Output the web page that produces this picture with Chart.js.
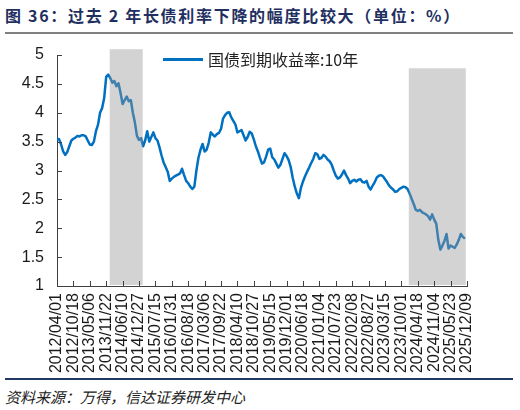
<!DOCTYPE html>
<html>
<head>
<meta charset="utf-8">
<script src="https://cdn.jsdelivr.net/npm/chart.js@4"></script>
<style>
  html, body { margin: 0; padding: 0; background: #fff; }
  body { width: 520px; height: 410px; position: relative; overflow: hidden; font-family: "Noto Sans CJK SC", sans-serif; }
  .title { position: absolute; left: 5px; top: 3px; font-size: 16px; font-weight: bold; color: #1f3060; letter-spacing: 1.7px; white-space: nowrap; }
  .rule-top { position: absolute; left: 5px; top: 32px; width: 508px; height: 2px; background: #808080; }
  .chart-box { position: absolute; left: 0; top: 40px; width: 520px; height: 338px; }
  .legend { position: absolute; left: 163px; top: 48px; height: 22px; display: flex; align-items: center; font-size: 16px; color: #222; white-space: nowrap; }
  .legend .swatch { width: 40px; height: 3px; background: #0070c0; margin-right: 5px; }
  .rule-bottom { position: absolute; left: 5px; top: 378px; width: 508px; height: 2px; background: #1f3864; }
  .source { position: absolute; left: 5px; top: 386px; font-size: 15px; font-style: italic; color: #222; white-space: nowrap; }
</style>
</head>
<body>
<div class="title">图 36：过去 2 年长债利率下降的幅度比较大（单位：%）</div>
<div class="rule-top"></div>
<div class="chart-box"><canvas id="yieldChart"></canvas></div>
<div class="legend"><span class="swatch"></span><span id="legendLabel"></span></div>
<div class="rule-bottom"></div>
<div class="source">资料来源：万得，信达证券研发中心</div>

<script>
// x tick labels, one every 200 days (every 8 samples)
const tickLabels = [
  '2012/04/01', '2012/10/18', '2013/05/06', '2013/11/22', '2014/06/10', '2014/12/27',
  '2015/07/15', '2016/01/31', '2016/08/18', '2017/03/06', '2017/09/22', '2018/04/10',
  '2018/10/27', '2019/05/15', '2019/12/01', '2020/06/18', '2021/01/04', '2021/07/23',
  '2022/02/08', '2022/08/27', '2023/03/15', '2023/10/01', '2024/04/18', '2024/11/04',
  '2025/05/23', '2025/12/09'
];
const samplesPerTick = 8;

const yTicks = [1, 1.5, 2, 2.5, 3, 3.5, 4, 4.5, 5];

const seriesName = '国债到期收益率:10年';

// 10Y CGB yield, one sample every 25 days from 2012/04/01
const yieldValues = [
  3.55, 3.54, 3.45, 3.33, 3.27, 3.32, 3.42, 3.52, 3.55, 3.57,
  3.60, 3.59, 3.61, 3.61, 3.59, 3.52, 3.45, 3.44, 3.50, 3.68,
  3.79, 4.00, 4.08, 4.25, 4.62, 4.66, 4.60, 4.52, 4.55, 4.46,
  4.51, 4.34, 4.15, 4.22, 4.28, 4.20, 4.22, 4.00, 3.83, 3.60,
  3.53, 3.56, 3.42, 3.52, 3.68, 3.50, 3.58, 3.66, 3.56, 3.52,
  3.40, 3.26, 3.14, 3.06, 2.98, 2.82, 2.86, 2.89, 2.91, 2.93,
  2.95, 3.03, 2.92, 2.82, 2.78, 2.72, 2.68, 2.72, 3.00, 3.22,
  3.36, 3.46, 3.33, 3.36, 3.48, 3.66, 3.62, 3.59, 3.63, 3.65,
  3.72, 3.90, 3.96, 4.00, 4.01, 3.92, 3.86, 3.80, 3.66, 3.68,
  3.70, 3.61, 3.52, 3.58, 3.67, 3.64, 3.54, 3.42, 3.33, 3.22,
  3.12, 3.14, 3.24, 3.36, 3.38, 3.23, 3.19, 3.12, 3.05, 3.10,
  3.20, 3.30, 3.25, 3.18, 3.06, 2.87, 2.72, 2.60, 2.52, 2.70,
  2.81, 2.90, 2.98, 3.05, 3.13, 3.20, 3.30, 3.28, 3.20, 3.22,
  3.27, 3.24, 3.19, 3.16, 3.10, 3.00, 2.91, 2.86, 2.88, 2.93,
  3.00, 2.92, 2.86, 2.78, 2.82, 2.84, 2.81, 2.84, 2.85, 2.80,
  2.79, 2.82, 2.72, 2.67, 2.74, 2.80, 2.88, 2.91, 2.92, 2.90,
  2.85, 2.80, 2.74, 2.70, 2.67, 2.63, 2.64, 2.68, 2.70, 2.72,
  2.71, 2.68, 2.60, 2.51, 2.42, 2.32, 2.30, 2.32, 2.28, 2.26,
  2.24, 2.21, 2.15, 2.24, 2.15, 2.08, 1.80, 1.63, 1.70, 1.78,
  1.90, 1.65, 1.70, 1.68, 1.66, 1.72, 1.80, 1.90, 1.85, 1.82
];

// shaded periods, in sample units, and the height they reach
const bandStarts = [25.7, 171.6];
const bandEnds = [41.8, 199.4];
const bandTops = [5.1, 4.77];

document.getElementById('legendLabel').textContent = seriesName;

// grey shading drawn over the line
const bandPlugin = {
  id: 'bands',
  afterDatasetsDraw(chart) {
    const { ctx, scales: { x, y } } = chart;
    ctx.save();
    ctx.fillStyle = 'rgba(150, 150, 150, 0.42)';
    bandStarts.forEach((start, i) => {
      const left = x.getPixelForValue(start);
      const right = x.getPixelForValue(bandEnds[i]);
      const top = y.getPixelForValue(bandTops[i]);
      const bottom = y.getPixelForValue(1) - 1;
      ctx.fillRect(left, top, right - left, bottom - top);
    });
    ctx.restore();
  }
};

// short tick marks pointing into the plot
const innerTicksPlugin = {
  id: 'innerTicks',
  afterDraw(chart) {
    const { ctx, chartArea, scales: { x, y } } = chart;
    ctx.save();
    ctx.strokeStyle = '#404040';
    ctx.lineWidth = 1;
    ctx.beginPath();
    x.ticks.forEach((t, i) => {
      const px = Math.round(x.getPixelForTick(i)) + 0.5;
      ctx.moveTo(px, chartArea.bottom);
      ctx.lineTo(px, chartArea.bottom - 5);
    });
    y.ticks.forEach((t, i) => {
      const py = Math.round(y.getPixelForTick(i)) + 0.5;
      ctx.moveTo(chartArea.left, py);
      ctx.lineTo(chartArea.left + 5, py);
    });
    ctx.stroke();
    ctx.restore();
  }
};

function initChart() {
  const ctx = document.getElementById('yieldChart').getContext('2d');
  const points = yieldValues.map((v, i) => ({ x: i, y: v }));

  new Chart(ctx, {
    type: 'line',
    data: {
      datasets: [{
        label: seriesName,
        data: points,
        borderColor: '#0070c0',
        borderWidth: 2.5,
        borderJoinStyle: 'round',
        pointRadius: 0,
        tension: 0,
        fill: false
      }]
    },
    options: {
      responsive: true,
      maintainAspectRatio: false,
      animation: false,
      events: [],
      layout: {
        padding: { top: 15, right: 53, left: 0, bottom: 0 }
      },
      plugins: {
        legend: { display: false },
        tooltip: { enabled: false }
      },
      scales: {
        x: {
          type: 'linear',
          min: 0,
          max: (tickLabels.length - 1) * samplesPerTick,
          afterBuildTicks: (scale) => {
            scale.ticks = tickLabels.map((l, i) => ({ value: i * samplesPerTick }));
          },
          afterFit: (scale) => {
            scale.height = 92;
            scale.paddingLeft = 0;
            scale.paddingRight = 0;
          },
          grid: { display: false, drawTicks: false },
          border: { display: true, color: '#404040', width: 1 },
          ticks: {
            autoSkip: false,
            minRotation: 90,
            maxRotation: 90,
            padding: 7,
            color: '#1a1a1a',
            font: { family: '"Liberation Sans", Arial, sans-serif', size: 16 },
            callback: (value) => tickLabels[Math.round(value / samplesPerTick)]
          }
        },
        y: {
          min: 1,
          max: 5,
          afterBuildTicks: (scale) => {
            scale.ticks = yTicks.map(v => ({ value: v }));
          },
          afterFit: (scale) => {
            scale.width = 57;
            scale.paddingTop = 0;
            scale.paddingBottom = 0;
          },
          grid: { display: false, drawTicks: false },
          border: { display: true, color: '#404040', width: 1 },
          ticks: {
            padding: 13,
            color: '#1a1a1a',
            font: { family: '"Liberation Sans", Arial, sans-serif', size: 16 },
            callback: (value) => String(value)
          }
        }
      }
    },
    plugins: [bandPlugin, innerTicksPlugin]
  });
}

document.addEventListener('DOMContentLoaded', () => {
  initChart();
});
</script>
</body>
</html>
